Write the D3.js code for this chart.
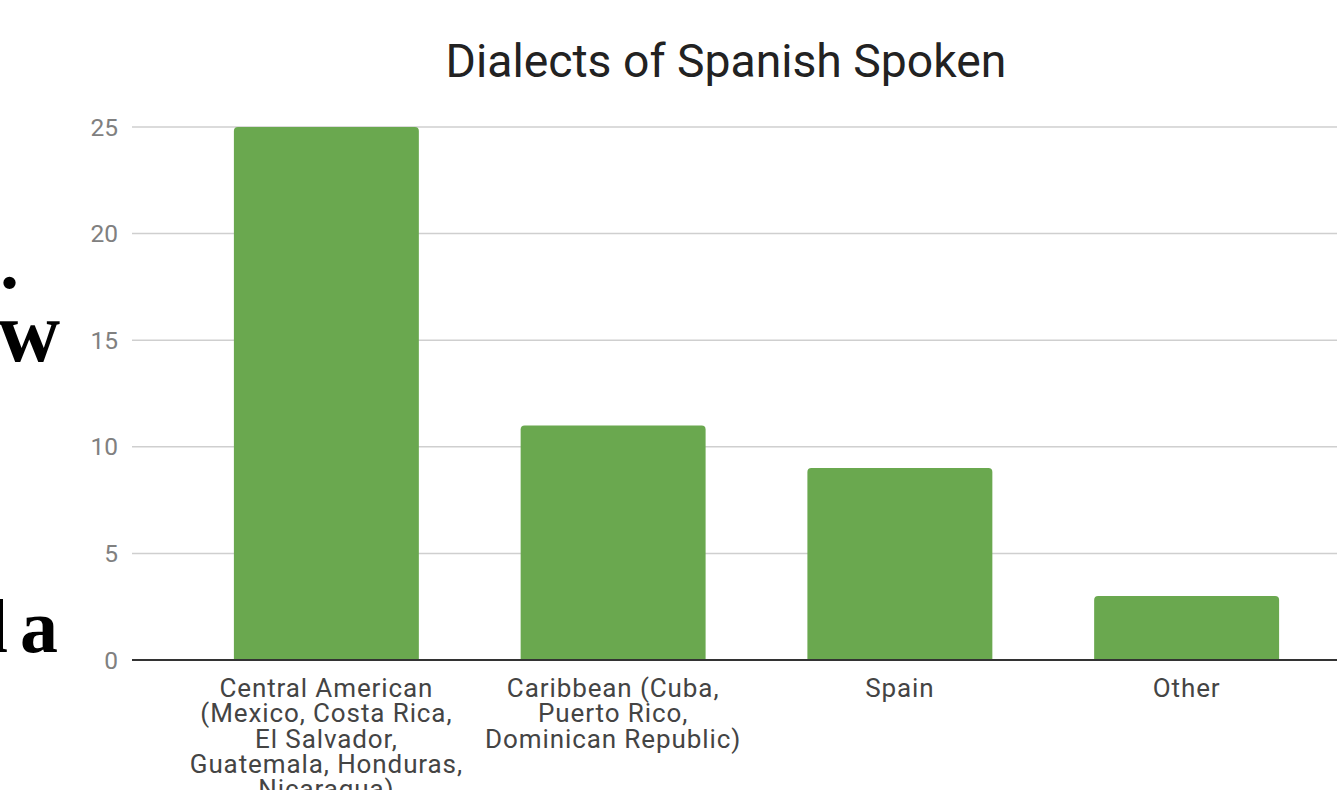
<!DOCTYPE html>
<html>
<head>
<meta charset="utf-8">
<script src="https://cdn.jsdelivr.net/npm/d3@7"></script>
<style>
  html, body { margin: 0; padding: 0; background: #fff; }
  svg { display: block; }
</style>
</head>
<body>
<div id="chart"></div>
<script>
// data
const categories = [
  ['Central American', '(Mexico, Costa Rica,', 'El Salvador,', 'Guatemala, Honduras,', 'Nicaragua)'],
  ['Caribbean (Cuba,', 'Puerto Rico,', 'Dominican Republic)'],
  ['Spain'],
  ['Other']
]
const counts = [25, 11, 9, 3]
const yTicks = [0, 5, 10, 15, 20, 25]
const title = 'Dialects of Spanish Spoken'
// bits of slide text bleeding in on the left edge
const slideBits = [
  { text: '.', x: 19, y: 288, size: 76 },
  { text: 'w', x: 60, y: 361, size: 86 },
  { text: 'l', x: 8, y: 652, size: 76 },
  { text: 'a', x: 58, y: 652, size: 76 }
]

const W = 1337, H = 790
const m = { left: 132, right: 0, top: 127, bottom: 130 }
const plotL = 183, plotR = 1330

const svg = d3.select('#chart').append('svg')
  .attr('width', W)
  .attr('height', H)

const x = d3.scaleBand()
  .domain(d3.range(counts.length))
  .range([plotL, plotR])
  .paddingInner(0.355)
  .paddingOuter(0.1775)

const y = d3.scaleLinear()
  .domain([0, 25])
  .range([H - m.bottom, m.top])

// gridlines
svg.append('g')
  .selectAll('line')
  .data(yTicks.filter(d => d > 0))
  .join('line')
    .attr('x1', m.left)
    .attr('x2', W)
    .attr('y1', d => y(d))
    .attr('y2', d => y(d))
    .attr('stroke', '#cfcfcf')
    .attr('stroke-width', 1.5)

// y tick labels
svg.append('g')
  .selectAll('text')
  .data(yTicks)
  .join('text')
    .attr('x', 118)
    .attr('y', d => y(d))
    .attr('dy', '0.35em')
    .attr('text-anchor', 'end')
    .attr('font-family', 'Roboto, sans-serif')
    .attr('font-size', 24.5)
    .attr('fill', '#808080')
    .text(d => d)

// bars, small rounded top corners
const r = 4
svg.append('g')
  .selectAll('path')
  .data(counts)
  .join('path')
    .attr('d', (d, i) => {
      const x0 = x(i), x1 = x(i) + x.bandwidth()
      const y0 = y(0), y1 = y(d)
      return `M${x0},${y0}V${y1 + r}Q${x0},${y1} ${x0 + r},${y1}H${x1 - r}Q${x1},${y1} ${x1},${y1 + r}V${y0}Z`
    })
    .attr('fill', '#6aa84f')

// baseline
svg.append('line')
  .attr('x1', m.left)
  .attr('x2', W)
  .attr('y1', y(0))
  .attr('y2', y(0))
  .attr('stroke', '#333')
  .attr('stroke-width', 2)

// category labels
const cat = svg.append('g')
  .selectAll('text')
  .data(categories)
  .join('text')
    .attr('x', (d, i) => x(i) + x.bandwidth() / 2)
    .attr('y', y(0) + 37)
    .attr('text-anchor', 'middle')
    .attr('font-family', 'Roboto, sans-serif')
    .attr('font-size', 26)
    .attr('letter-spacing', 0.9)
    .attr('fill', '#444')

cat.selectAll('tspan')
  .data(d => d)
  .join('tspan')
    .attr('x', function () { return this.parentNode.getAttribute('x') })
    .attr('dy', (d, i) => i === 0 ? 0 : 25.3)
    .text(d => d)

// title
svg.append('text')
  .attr('x', 726)
  .attr('y', 77)
  .attr('text-anchor', 'middle')
  .attr('font-family', 'Roboto, sans-serif')
  .attr('font-size', 46.3)
  .attr('fill', '#222')
  .text(title)

// slide fragments
svg.append('g')
  .selectAll('text')
  .data(slideBits)
  .join('text')
    .attr('x', d => d.x)
    .attr('y', d => d.y)
    .attr('text-anchor', 'end')
    .attr('font-family', '"Liberation Serif", serif')
    .attr('font-weight', 'bold')
    .attr('font-size', d => d.size)
    .attr('fill', '#000')
    .text(d => d.text)
</script>
</body>
</html>
